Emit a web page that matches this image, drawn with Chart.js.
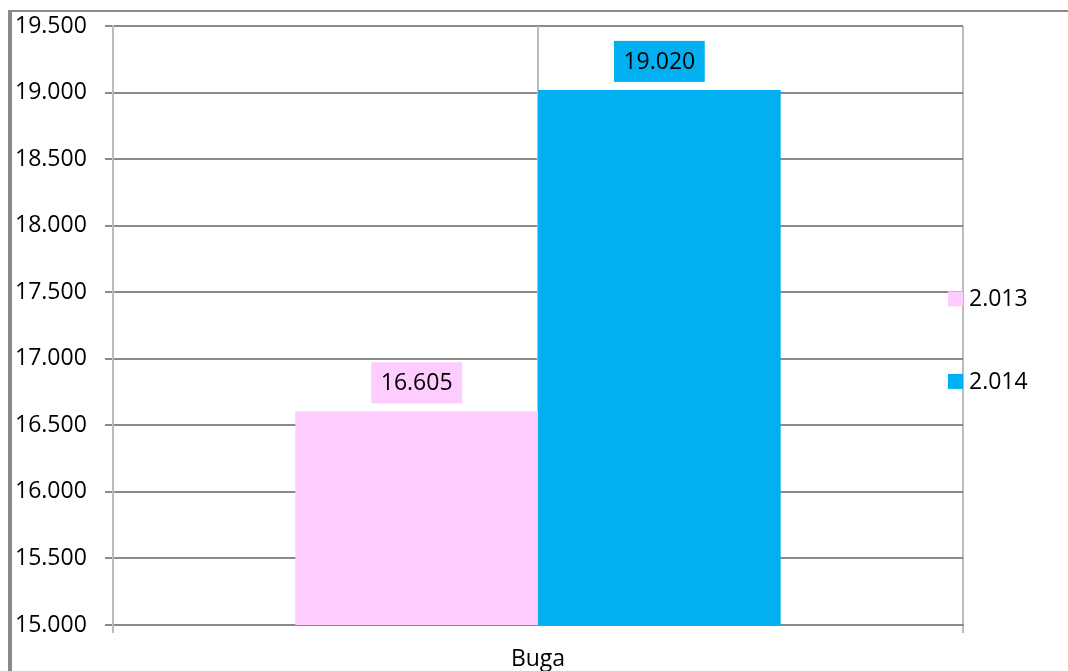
<!DOCTYPE html>
<html>
<head>
<meta charset="utf-8">
<script src="https://cdn.jsdelivr.net/npm/chart.js@4.4.1/dist/chart.umd.min.js"></script>
<style>
  html, body { margin: 0; padding: 0; background: #ffffff; }
  canvas { display: block; }
</style>
</head>
<body>
<canvas id="c" width="1068" height="671"></canvas>
<script>
const categories = ['Buga'];
const seriesLabels = ['2.013', '2.014'];
const values2013 = [16605];
const values2014 = [19020];
const seriesColors = ['#FFCCFF', '#00B0F0'];
const yMin = 15000, yMax = 19500, yStep = 500;

const FONT = '"Open Sans", "Liberation Sans", sans-serif';
const FSIZE = 23;

function fmt(v) {
  const s = Math.round(v).toString();
  return s.replace(/\B(?=(\d{3})+(?!\d))/g, '.');
}

const framePlugin = {
  id: 'frame',
  beforeDraw(chart) {
    const ctx = chart.ctx;
    ctx.save();
    ctx.fillStyle = '#ffffff';
    ctx.fillRect(0, 0, chart.width, chart.height);
    ctx.fillStyle = '#8a8a8a';
    ctx.fillRect(8, 10, chart.width - 8, 2);
    ctx.fillRect(8, 10, 4, chart.height - 10);
    ctx.restore();
  },
  beforeDatasetsDraw(chart) {
    const ctx = chart.ctx;
    const x = chart.scales.x.getPixelForValue(0);
    const a = chart.chartArea;
    ctx.save();
    ctx.strokeStyle = '#bcbcbc';
    ctx.lineWidth = 2;
    ctx.beginPath();
    ctx.moveTo(x, a.top);
    ctx.lineTo(x, a.bottom);
    ctx.stroke();
    ctx.restore();
  },
  afterDatasetsDraw(chart) {
    const ctx = chart.ctx;
    ctx.save();
    ctx.font = FSIZE + 'px ' + FONT;
    ctx.textAlign = 'center';
    ctx.textBaseline = 'middle';
    chart.data.datasets.forEach((ds, i) => {
      const meta = chart.getDatasetMeta(i);
      meta.data.forEach((bar, j) => {
        const txt = fmt(ds.data[j]);
        const w = ctx.measureText(txt).width + 19;
        const h = 41;
        const cx = bar.x;
        const bottom = bar.y - 8;
        ctx.fillStyle = seriesColors[i];
        ctx.fillRect(cx - w / 2, bottom - h, w, h);
        ctx.fillStyle = '#000000';
        ctx.fillText(txt, cx, bottom - h / 2 + 1);
      });
    });
    // legend
    const a = chart.chartArea;
    const yScale = chart.scales.y;
    const legendY = [yScale.getPixelForValue(17450), yScale.getPixelForValue(16830)];
    ctx.textAlign = 'left';
    chart.data.datasets.forEach((ds, i) => {
      const cy = legendY[i];
      ctx.fillStyle = seriesColors[i];
      ctx.fillRect(a.right - 15, cy - 7.5, 15, 15);
      ctx.fillStyle = '#000000';
      ctx.fillText(ds.label, a.right + 6, cy + 1);
    });
    ctx.restore();
  }
};

new Chart(document.getElementById('c'), {
  type: 'bar',
  data: {
    labels: categories,
    datasets: [
      { label: seriesLabels[0], data: values2013, backgroundColor: seriesColors[0], borderWidth: 0 },
      { label: seriesLabels[1], data: values2014, backgroundColor: seriesColors[1], borderWidth: 0 }
    ]
  },
  options: {
    responsive: false,
    animation: false,
    events: [],
    categoryPercentage: 0.571,
    barPercentage: 1,
    layout: { padding: { left: 15, right: 105, top: 26, bottom: 0 } },
    plugins: { legend: { display: false }, tooltip: { enabled: false } },
    scales: {
      x: {
        offset: true,
        grid: { offset: true, color: '#bcbcbc', lineWidth: 2, tickLength: 8, drawTicks: true },
        border: { display: true, color: '#8a8a8a', width: 2 },
        ticks: { color: '#000000', font: { family: FONT, size: FSIZE }, padding: 13 },
        afterFit(s) { s.height = 46; }
      },
      y: {
        min: yMin, max: yMax,
        grid: { color: '#8a8a8a', lineWidth: 2, tickLength: 8 },
        border: { display: true, color: '#bcbcbc', width: 2 },
        ticks: {
          stepSize: yStep, color: '#000000', crossAlign: 'far', padding: 6,
          font: { family: FONT, size: FSIZE },
          callback: (v) => fmt(v)
        },
        afterFit(s) { s.width = 98; }
      }
    }
  },
  plugins: [framePlugin]
});
</script>
</body>
</html>
